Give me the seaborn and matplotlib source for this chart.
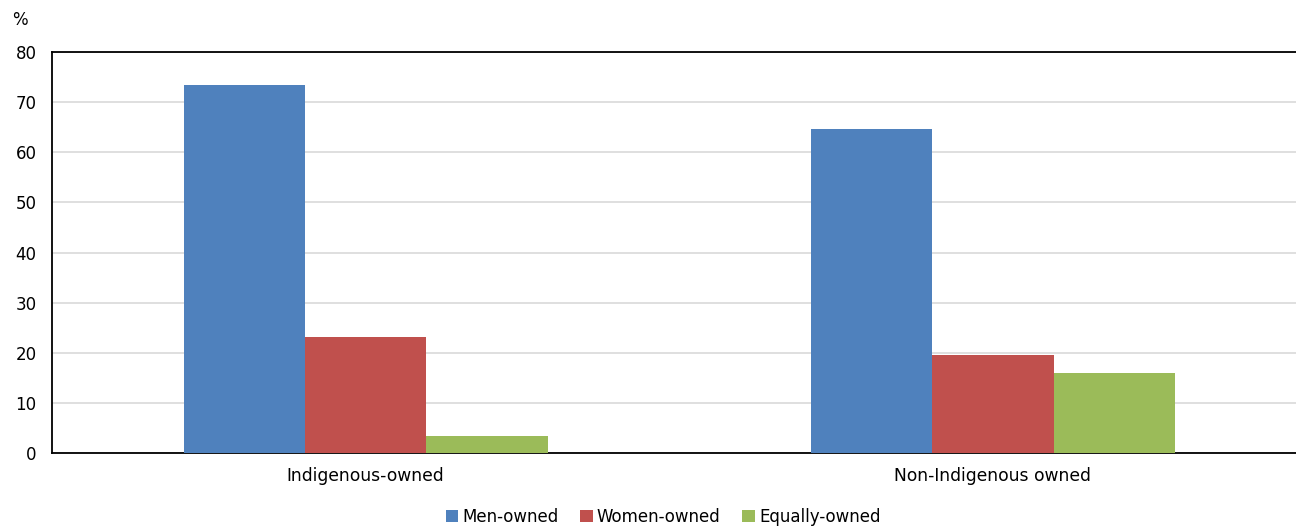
import matplotlib
matplotlib.use("Agg")
import matplotlib.pyplot as plt
import seaborn as sns
import pandas as pd
from matplotlib.patches import Patch

categories = ["Indigenous-owned", "Non-Indigenous owned"]
series = ["Men-owned", "Women-owned", "Equally-owned"]
men_owned = [73.4, 64.7]
women_owned = [23.2, 19.5]
equally_owned = [3.4, 15.9]
yticks = [0, 10, 20, 30, 40, 50, 60, 70, 80]
colors = ["#4F81BD", "#C0504D", "#9BBB59"]

rows = []
for vals, s in zip([men_owned, women_owned, equally_owned], series):
    for c, v in zip(categories, vals):
        rows.append({"category": c, "series": s, "value": v})
df = pd.DataFrame(rows)

sns.set_theme(style="white")
plt.rcParams["font.family"] = ["DejaVu Sans"]
plt.rcParams["text.color"] = "#000000"

fig = plt.figure(figsize=(12.96, 5.26), dpi=100)
ax = fig.add_axes([52 / 1296, 73 / 526, 1254.5 / 1296, 401 / 526])

sns.barplot(data=df, x="category", y="value", hue="series", order=categories,
            hue_order=series, palette=colors, width=0.58, saturation=1,
            edgecolor="none", linewidth=0, ax=ax, legend=False, zorder=3)

ax.set_xlim(-0.5, 1.5)
ax.set_ylim(0, 80)
ax.set_yticks(yticks)
ax.set_yticklabels([str(t) for t in yticks], fontsize=12, color="#000000")
ax.tick_params(axis="x", labelsize=12.3, colors="#000000", length=0, pad=10)
ax.tick_params(axis="y", length=0, pad=11)
ax.set_xlabel("")
ax.set_ylabel("")
ax.yaxis.grid(True, color="#D9D9D9", linewidth=1.2, zorder=0)
ax.set_axisbelow(True)
for side in ["left", "bottom", "top"]:
    ax.spines[side].set_visible(True)
    ax.spines[side].set_color("#000000")
    ax.spines[side].set_linewidth(1.3)
ax.spines["right"].set_visible(False)

fig.text(12 / 1296, 1 - 20 / 526, "%", fontsize=12, va="center", ha="left", color="#000000")

handles = [Patch(facecolor=c, edgecolor="none") for c in colors]
leg = fig.legend(handles, series, loc="center", bbox_to_anchor=(663 / 1296, 1 - 517 / 526),
                 ncol=3, frameon=False, fontsize=12, handlelength=0.75, handleheight=0.7,
                 handletextpad=0.25, columnspacing=1.3)
for t in leg.get_texts():
    t.set_color("#000000")

fig.savefig("out.png", dpi=100)
